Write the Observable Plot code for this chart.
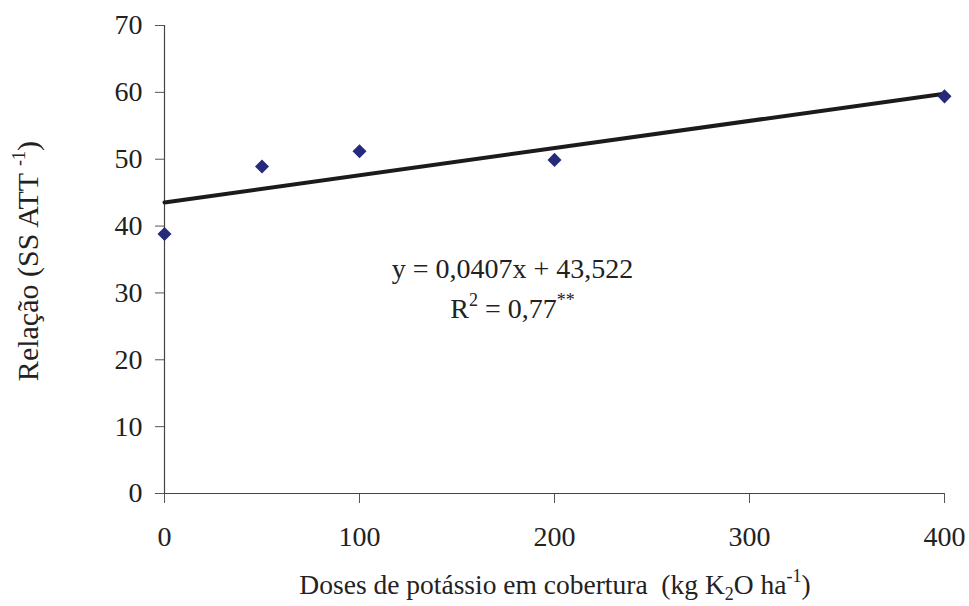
<!DOCTYPE html>
<html><head><meta charset="utf-8">
<script src="https://cdn.jsdelivr.net/npm/d3@7"></script>
<script src="https://cdn.jsdelivr.net/npm/@observablehq/plot@0.6"></script>
<style>
body{margin:0;background:#fff}
</style>
</head><body><div id="chart"></div>
<script>
// Data
const doses = [0, 50, 100, 200, 400];
const relacao = [38.8, 48.9, 51.2, 49.9, 59.4];
const xTicks = [0, 100, 200, 300, 400];
const yTicks = [0, 10, 20, 30, 40, 50, 60, 70];
// Regression shown on chart
const slope = 0.0407;
const intercept = 43.522;
const fitRange = [0, 400];
const eqText = "y = 0,0407x + 43,522";
const r2Text = "0,77";

const points = doses.map((d, i) => ({x: d, y: relacao[i]}));
const fit = fitRange.map(x => ({x, y: intercept + slope * x}));

const FONT = "Liberation Serif";
const W = 969, H = 606;
const fs = 28;
const chart = Plot.plot({
  width: W, height: H,
  marginLeft: 164, marginRight: 25, marginTop: 25, marginBottom: 113,
  style: {color: "#222", background: "#fff"},
  x: {domain: [0, 400]},
  y: {domain: [0, 70]},
  marks: [
    Plot.axisY(yTicks, {tickSize: 9, tickPadding: 13, fontSize: fs, label: null, stroke: "#555"}),
    Plot.axisX(xTicks, {tickSize: 10, tickPadding: 23, fontSize: fs, label: null, stroke: "#555"}),
    Plot.ruleX([0], {stroke: "#444", strokeWidth: 1.2}),
    Plot.ruleY([0], {stroke: "#444", strokeWidth: 1.2}),
    Plot.line(fit, {x: "x", y: "y", stroke: "#1c1a1a", strokeWidth: 4}),
    Plot.dot(points, {x: "x", y: "y", symbol: "square", r: 5.6, rotate: 45, fill: "#252a7c", stroke: "none"})
  ]
});
document.getElementById("chart").appendChild(chart);

const sx = chart.scale("x"), sy = chart.scale("y");
const svg = d3.select(chart);
const sup = 18;

// Equation annotation
const cx = sx.apply(178.7);
svg.append("text").attr("x", cx).attr("y", sy.apply(32.2))
  .attr("text-anchor", "middle").attr("font-size", fs).attr("fill", "#222").text(eqText);
const t2 = svg.append("text").attr("x", cx).attr("y", sy.apply(26.2))
  .attr("text-anchor", "middle").attr("font-size", fs).attr("fill", "#222");
t2.append("tspan").text("R");
t2.append("tspan").attr("font-size", sup).attr("dy", -12).text("2");
t2.append("tspan").attr("dy", 12).text(" = " + r2Text);
t2.append("tspan").attr("font-size", sup).attr("dy", -12).text("**");

// X axis title
const xt = svg.append("text").attr("x", 555).attr("y", 594)
  .attr("text-anchor", "middle").attr("font-size", 27.5).attr("fill", "#222");
xt.append("tspan").text("Doses de potássio em cobertura  (kg K");
xt.append("tspan").attr("font-size", sup).attr("dy", 6).text("2");
xt.append("tspan").attr("dy", -6).text("O ha");
xt.append("tspan").attr("font-size", sup).attr("dy", -12).text("-1");
xt.append("tspan").attr("dy", 12).text(")");

// Y axis title
const yt = svg.append("text").attr("transform", `translate(38,${(25 + 493) / 2 + 2}) rotate(-90)`)
  .attr("text-anchor", "middle").attr("font-size", 30).attr("fill", "#222");
yt.append("tspan").text("Relação (SS ATT ");
yt.append("tspan").attr("font-size", sup).attr("dy", -13).text("-1");
yt.append("tspan").attr("dy", 13).text(")");

// Force serif font on every text
svg.style("font-family", FONT, "important");
svg.selectAll("g").attr("font-family", FONT);
svg.selectAll("text").attr("font-family", FONT).style("font-family", FONT, "important");
</script>
</body></html>
